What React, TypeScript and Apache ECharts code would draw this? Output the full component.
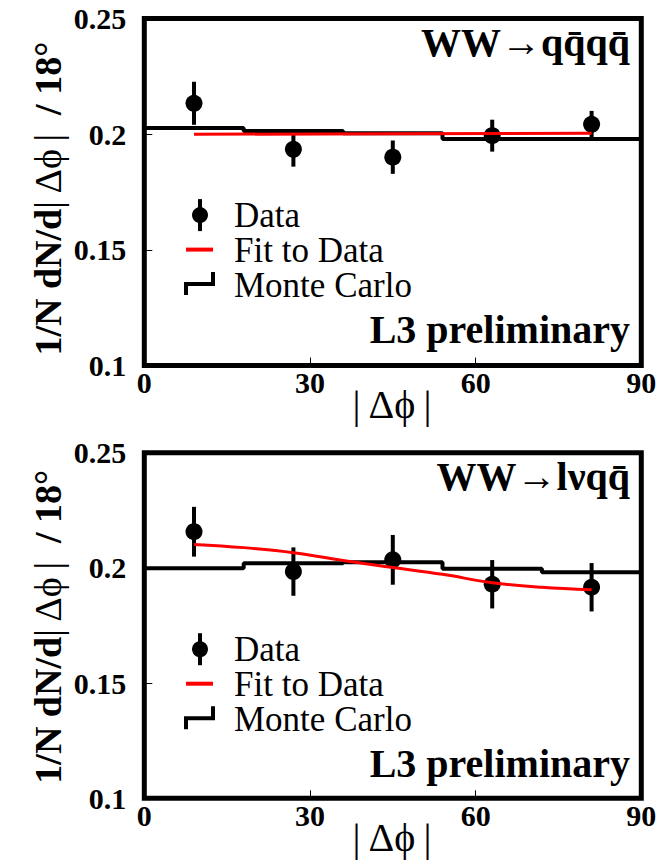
import React, { useEffect, useRef } from "react";
import * as echarts from "echarts";

const FONT = "Liberation Serif";

const binEdges = [0, 18, 36, 54, 72, 90];
const binCenters = [9, 27, 45, 63, 81];
const xTicks = [0, 30, 60, 90];

// WW -> qqqq panel
const qqqqData = [0.2134, 0.1935, 0.1901, 0.1994, 0.2043];
const qqqqErr = [0.0093, 0.0075, 0.0072, 0.0069, 0.0058];
const qqqqMC = [0.2027, 0.2014, 0.2004, 0.198, 0.198];
const qqqqFitX = [9, 45, 81];
const qqqqFitY = [0.2, 0.2002, 0.2004];

// WW -> lvqq panel
const lvqqData = [0.2157, 0.1984, 0.2035, 0.1929, 0.1916];
const lvqqErr = [0.0108, 0.0105, 0.0108, 0.0105, 0.0105];
const lvqqMC = [0.1999, 0.202, 0.2025, 0.1996, 0.1981];
const lvqqFitX = [9, 18, 27, 36, 45, 54, 63, 72, 81];
const lvqqFitY = [0.2102, 0.2088, 0.2066, 0.2032, 0.2002, 0.1972, 0.1936, 0.1916, 0.1905];

const panels = [
  { title: "WW\u2192qq\u0304qq\u0304", data: qqqqData, err: qqqqErr, mc: qqqqMC, fitX: qqqqFitX, fitY: qqqqFitY, smooth: false },
  { title: "WW\u2192l\u03bdqq\u0304", data: lvqqData, err: lvqqErr, mc: lvqqMC, fitX: lvqqFitX, fitY: lvqqFitY, smooth: true },
];

const grids = [
  { left: 144.3, top: 18.6, width: 497, height: 347 },
  { left: 144.3, top: 452.7, width: 497, height: 345.6 },
];

function txt(x: number, y: number, text: string, size: number, bold: boolean, align: string) {
  const style: any = {
    text,
    fontFamily: FONT,
    fontSize: size,
    fill: "#000",
    align,
    verticalAlign: "middle",
  };
  if (bold) style.fontWeight = "bold";
  return { type: "text", x, y, z: 10, style };
}

function buildOption() {
  const series: any[] = [];
  const graphic: any[] = [];
  panels.forEach((p, i) => {
    const g = grids[i];
    series.push({
      type: "line",
      xAxisIndex: i,
      yAxisIndex: i,
      step: "end",
      data: binEdges.map((e, k) => [e, p.mc[Math.min(k, p.mc.length - 1)]]),
      showSymbol: false,
      lineStyle: { color: "#000", width: 4 },
      z: 2,
    });
    series.push({
      type: "custom",
      xAxisIndex: i,
      yAxisIndex: i,
      data: binCenters.map((c, k) => [c, p.data[k], p.err[k]]),
      encode: { x: 0, y: 1 },
      renderItem: (params: any, api: any) => {
        const x = api.value(0);
        const y = api.value(1);
        const e = api.value(2);
        const a = api.coord([x, y + e]);
        const b = api.coord([x, y - e]);
        return {
          type: "line",
          shape: { x1: a[0], y1: a[1], x2: b[0], y2: b[1] },
          style: { stroke: "#000", lineWidth: 4 },
        };
      },
      z: 3,
    });
    series.push({
      type: "scatter",
      xAxisIndex: i,
      yAxisIndex: i,
      data: binCenters.map((c, k) => [c, p.data[k]]),
      symbol: "circle",
      symbolSize: 17,
      itemStyle: { color: "#000", opacity: 1 },
      z: 4,
    });
    series.push({
      type: "line",
      xAxisIndex: i,
      yAxisIndex: i,
      data: p.fitX.map((x, k) => [x, p.fitY[k]]),
      smooth: p.smooth ? 0.4 : false,
      showSymbol: false,
      lineStyle: { color: "#ff0000", width: 3 },
      z: 5,
    });

    const top = g.top;
    graphic.push(txt(630, top + 23.5, p.title, 40, true, "right"));
    graphic.push(txt(630, top + 310.5, "L3 preliminary", 40, true, "right"));
    // legend
    const ly = top + 196.5;
    graphic.push({ type: "line", z: 10, shape: { x1: 200, y1: ly - 16, x2: 200, y2: ly + 16 }, style: { stroke: "#000", lineWidth: 4 } });
    graphic.push({ type: "circle", z: 10, shape: { cx: 200, cy: ly, r: 8 }, style: { fill: "#000" } });
    graphic.push(txt(234, ly, "Data", 35, false, "left"));
    graphic.push({ type: "line", z: 10, shape: { x1: 186, y1: ly + 34.5, x2: 213, y2: ly + 34.5 }, style: { stroke: "#ff0000", lineWidth: 4 } });
    graphic.push(txt(234, ly + 35, "Fit to Data", 35, false, "left"));
    graphic.push({
      type: "polyline", z: 10,
      shape: { points: [[186, ly + 80], [186, ly + 69], [213, ly + 69], [213, ly + 57]] },
      style: { stroke: "#000", lineWidth: 4, fill: null },
    });
    graphic.push(txt(234, ly + 70, "Monte Carlo", 35, false, "left"));
    // axis titles
    graphic.push(txt(392, top + g.height + 39, "|\u2009\u0394\u03d5\u2009|", 40, false, "center"));
    graphic.push({
      type: "text", x: 48, y: top + (i === 0 ? 180 : 174), rotation: Math.PI / 2, z: 10,
      style: {
        text: "{b|1/N dN/d}{r||\u2009\u0394\u03d5\u2009|}{b|  / 18\u00b0}",
        align: "center",
        verticalAlign: "middle",
        fill: "#000",
        fontFamily: FONT,
        fontSize: 38,
        rich: {
          b: { fontFamily: FONT, fontSize: 38, fontWeight: "bold", fill: "#000" },
          r: { fontFamily: FONT, fontSize: 38, fill: "#000" },
        },
      },
    });
  });

  const axisLabelStyle = { fontFamily: FONT, fontSize: 30, fontWeight: "bold", color: "#000" };

  return {
    animation: false,
    backgroundColor: "#fff",
    textStyle: { fontFamily: FONT },
    grid: grids.map((g) => ({ ...g, show: true, borderColor: "#000", borderWidth: 5, backgroundColor: "transparent" })),
    xAxis: grids.map((_, i) => ({
      type: "value",
      gridIndex: i,
      min: xTicks[0],
      max: xTicks[xTicks.length - 1],
      interval: 30,
      axisLine: { show: false },
      axisTick: { show: true, inside: true, length: 8, lineStyle: { color: "#000", width: 1 } },
      axisLabel: { ...axisLabelStyle, margin: 2, showMinLabel: true, showMaxLabel: true },
      splitLine: { show: false },
    })),
    yAxis: grids.map((_, i) => ({
      type: "value",
      gridIndex: i,
      min: 0.1,
      max: 0.25,
      interval: 0.05,
      axisLine: { show: false },
      axisTick: { show: true, inside: true, length: 8, lineStyle: { color: "#000", width: 1 } },
      axisLabel: { ...axisLabelStyle, margin: 18, showMinLabel: true, showMaxLabel: true },
      splitLine: { show: false },
    })),
    series,
    graphic,
  };
}

export default function App() {
  const ref = useRef<HTMLDivElement>(null);
  useEffect(() => {
    if (!ref.current) return;
    const chart = echarts.init(ref.current, undefined, { renderer: "svg" });
    chart.setOption(buildOption() as any);
    return () => chart.dispose();
  }, []);
  return (
    <div
      ref={ref}
      style={{ position: "fixed", left: 0, top: 0, width: 668, height: 864, background: "#fff" }}
    />
  );
}
